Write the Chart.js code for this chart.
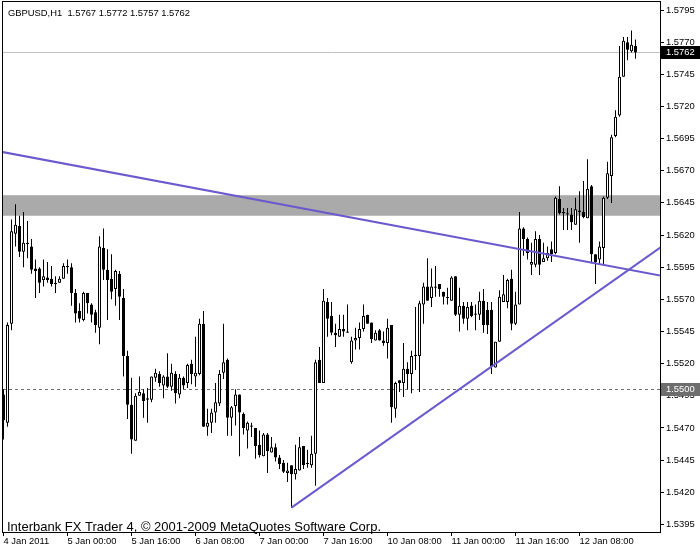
<!DOCTYPE html>
<html>
<head>
<meta charset="utf-8">
<script src="https://cdn.jsdelivr.net/npm/chart.js@4.4.1/dist/chart.umd.min.js"></script>
<style>
  html, body { margin: 0; padding: 0; background: #fff; }
  canvas { display: block; }
</style>
</head>
<body>
<canvas id="gbpChart" width="700" height="550"></canvas>
<script>
// Données GBPUSD H1
const OPEN = [1.5496,1.5474,1.5551,1.5621,1.5627,1.5607,1.5614,1.5611,1.5594,1.5594,
  1.5585,1.5587,1.5586,1.5582,1.5583,1.5586,1.5596,1.5595,1.5575,1.5561,
  1.5554,1.5575,1.5566,1.5560,1.5548,1.5610,1.5593,1.5586,1.5578,1.5590,
  1.5571,1.5526,1.5488,1.5460,1.5495,1.5497,1.5493,1.5492,1.5509,1.5512,
  1.5503,1.5510,1.5502,1.5512,1.5496,1.5509,1.5505,1.5520,1.5510,1.5512,
  1.5551,1.5471,1.5474,1.5482,1.5489,1.5513,1.5523,1.5478,1.5487,1.5496,
  1.5481,1.5468,1.5472,1.5470,1.5457,1.5448,1.5465,1.5451,1.5455,1.5447,
  1.5443,1.5435,1.5441,1.5434,1.5437,1.5456,1.5442,1.5441,1.5450,1.5523,
  1.5505,1.5568,1.5557,1.5544,1.5541,1.5547,1.5545,1.5521,1.5538,1.5540,
  1.5547,1.5558,1.5552,1.5538,1.5546,1.5538,1.5536,1.5550,1.5485,1.5507,
  1.5505,1.5516,1.5512,1.5527,1.5526,1.5566,1.5580,1.5571,1.5580,1.5582,
  1.5576,1.5571,1.5569,1.5588,1.5558,1.5565,1.5555,1.5565,1.5559,1.5558,
  1.5569,1.5562,1.5562,1.5517,1.5537,1.5568,1.5568,1.5586,1.5551,1.5566,
  1.5625,1.5617,1.5597,1.5597,1.5617,1.5599,1.5602,1.5609,1.5606,1.5648,
  1.5638,1.5637,1.5636,1.5628,1.5639,1.5638,1.5633,1.5658,1.5605,1.5601,
  1.5610,1.5649,1.5666,1.5697,1.5713,1.5743,1.5770,1.5763,1.5767];
const HIGH = [1.5500,1.5552,1.5632,1.5644,1.5635,1.5638,1.5631,1.5617,1.5601,1.5595,
  1.5601,1.5599,1.5596,1.5588,1.5588,1.5598,1.5601,1.5598,1.5578,1.5567,
  1.5576,1.5575,1.5567,1.5562,1.5619,1.5625,1.5609,1.5605,1.5593,1.5592,
  1.5578,1.5530,1.5509,1.5497,1.5510,1.5500,1.5501,1.5510,1.5516,1.5514,
  1.5511,1.5528,1.5520,1.5514,1.5512,1.5510,1.5520,1.5523,1.5541,1.5555,
  1.5561,1.5485,1.5485,1.5505,1.5515,1.5551,1.5524,1.5487,1.5500,1.5496,
  1.5482,1.5475,1.5474,1.5470,1.5468,1.5466,1.5466,1.5463,1.5458,1.5449,
  1.5445,1.5443,1.5441,1.5457,1.5463,1.5456,1.5453,1.5464,1.5523,1.5533,
  1.5578,1.5571,1.5568,1.5551,1.5558,1.5558,1.5566,1.5541,1.5548,1.5552,
  1.5566,1.5558,1.5552,1.5546,1.5547,1.5545,1.5555,1.5550,1.5506,1.5507,
  1.5536,1.5521,1.5530,1.5564,1.5569,1.5583,1.5602,1.5594,1.5596,1.5582,
  1.5576,1.5579,1.5588,1.5588,1.5579,1.5568,1.5568,1.5568,1.5566,1.5576,
  1.5578,1.5568,1.5568,1.5537,1.5577,1.5589,1.5586,1.5593,1.5576,1.5638,
  1.5626,1.5618,1.5614,1.5623,1.5620,1.5614,1.5611,1.5615,1.5650,1.5658,
  1.5641,1.5641,1.5641,1.5649,1.5654,1.5662,1.5679,1.5659,1.5605,1.5615,
  1.5650,1.5677,1.5698,1.5717,1.5767,1.5774,1.5774,1.5779,1.5772];
const LOW = [1.5461,1.5471,1.5546,1.5611,1.5603,1.5595,1.5602,1.5590,1.5571,1.5575,
  1.5580,1.5583,1.5580,1.5575,1.5583,1.5586,1.5590,1.5565,1.5552,1.5552,
  1.5553,1.5559,1.5552,1.5544,1.5535,1.5585,1.5554,1.5570,1.5565,1.5554,
  1.5510,1.5477,1.5450,1.5460,1.5495,1.5478,1.5474,1.5490,1.5506,1.5502,
  1.5493,1.5501,1.5499,1.5489,1.5493,1.5500,1.5501,1.5504,1.5502,1.5511,
  1.5471,1.5464,1.5466,1.5474,1.5487,1.5508,1.5464,1.5464,1.5472,1.5448,
  1.5465,1.5454,1.5463,1.5446,1.5447,1.5448,1.5435,1.5451,1.5444,1.5438,
  1.5435,1.5428,1.5408,1.5430,1.5437,1.5438,1.5439,1.5439,1.5425,1.5505,
  1.5505,1.5541,1.5542,1.5533,1.5541,1.5541,1.5544,1.5520,1.5531,1.5531,
  1.5545,1.5551,1.5536,1.5538,1.5538,1.5534,1.5524,1.5474,1.5478,1.5498,
  1.5494,1.5500,1.5497,1.5515,1.5498,1.5551,1.5569,1.5564,1.5572,1.5572,
  1.5566,1.5566,1.5569,1.5557,1.5545,1.5551,1.5546,1.5556,1.5546,1.5554,
  1.5544,1.5543,1.5512,1.5517,1.5537,1.5568,1.5563,1.5546,1.5550,1.5566,
  1.5604,1.5601,1.5589,1.5595,1.5589,1.5599,1.5600,1.5599,1.5605,1.5636,
  1.5624,1.5624,1.5624,1.5628,1.5614,1.5633,1.5633,1.5598,1.5582,1.5597,
  1.5597,1.5648,1.5645,1.5696,1.5712,1.5743,1.5756,1.5762,1.5757];
const CLOSE = [1.5476,1.5550,1.5623,1.5628,1.5607,1.5614,1.5613,1.5593,1.5592,1.5583,
  1.5588,1.5585,1.5582,1.5582,1.5586,1.5596,1.5595,1.5575,1.5559,1.5555,
  1.5575,1.5567,1.5558,1.5550,1.5611,1.5593,1.5585,1.5576,1.5592,1.5572,
  1.5526,1.5488,1.5461,1.5495,1.5498,1.5491,1.5492,1.5510,1.5513,1.5505,
  1.5510,1.5502,1.5513,1.5497,1.5509,1.5503,1.5519,1.5512,1.5513,1.5551,
  1.5471,1.5474,1.5482,1.5490,1.5512,1.5521,1.5478,1.5486,1.5496,1.5482,
  1.5470,1.5474,1.5471,1.5456,1.5449,1.5465,1.5452,1.5455,1.5447,1.5442,
  1.5436,1.5437,1.5434,1.5438,1.5455,1.5441,1.5442,1.5450,1.5521,1.5505,
  1.5569,1.5555,1.5544,1.5542,1.5547,1.5545,1.5544,1.5538,1.5540,1.5547,
  1.5557,1.5551,1.5539,1.5544,1.5538,1.5536,1.5548,1.5486,1.5505,1.5505,
  1.5516,1.5512,1.5526,1.5526,1.5567,1.5580,1.5569,1.5580,1.5579,1.5578,
  1.5572,1.5571,1.5587,1.5558,1.5565,1.5555,1.5564,1.5557,1.5558,1.5569,
  1.5550,1.5550,1.5518,1.5537,1.5572,1.5574,1.5585,1.5551,1.5566,1.5625,
  1.5617,1.5606,1.5599,1.5617,1.5597,1.5602,1.5606,1.5605,1.5649,1.5637,
  1.5637,1.5636,1.5630,1.5640,1.5638,1.5634,1.5656,1.5605,1.5599,1.5611,
  1.5649,1.5668,1.5696,1.5712,1.5743,1.5771,1.5764,1.5768,1.5762];

const X_LABELS = ['4 Jan 2011', '5 Jan 00:00', '5 Jan 16:00', '6 Jan 08:00', '7 Jan 00:00',
  '7 Jan 16:00', '10 Jan 08:00', '11 Jan 00:00', '11 Jan 16:00', '12 Jan 08:00'];
const X_LABEL_BARS = [0, 16, 32, 48, 64, 80, 96, 112, 128, 144];
const Y_TICKS = [1.5795, 1.5770, 1.5745, 1.5720, 1.5695, 1.5670, 1.5645, 1.5620, 1.5595,
  1.5570, 1.5545, 1.5520, 1.5495, 1.5470, 1.5445, 1.5420, 1.5395];

// Objets dessinés sur le graphique
const TREND_DOWN = [{ x: -1, y: 1.5685 }, { x: 165, y: 1.5588 }];
const TREND_UP = [{ x: 72, y: 1.5408 }, { x: 165, y: 1.5612 }];
const ZONE = [1.5635, 1.5651];
const BID = 1.5762;
const LEVEL = 1.5500;
const TITLE = 'GBPUSD,H1  1.5767 1.5772 1.5757 1.5762';
const FOOTER = 'Interbank FX Trader 4, \u00A9 2001-2009 MetaQuotes Software Corp.';

const SMALL_FONT = { family: 'Liberation Sans', size: 9.4 };
const PX_PER_PRICE = 12860;

const wickData = OPEN.map((o, i) => ({ x: i, y: [LOW[i], HIGH[i]] }));
const bodyData = OPEN.map((o, i) => ({ x: i, y: [o, CLOSE[i]] }));
const bodyColors = OPEN.map((o, i) => CLOSE[i] >= o ? '#ffffff' : '#000000');

// Plugin pour la zone grise, les lignes horizontales et les textes
const mtPlugin = {
    id: 'mtOverlay',
    beforeDatasetsDraw(chart) {
        const { ctx, chartArea: a, scales: { y } } = chart;
        ctx.save();
        const top = y.getPixelForValue(ZONE[1]);
        const bot = y.getPixelForValue(ZONE[0]);
        ctx.fillStyle = '#aaaaaa';
        ctx.fillRect(a.left, top, a.right - a.left, bot - top);

        ctx.strokeStyle = '#c0c0c0';
        ctx.lineWidth = 1;
        let yy = Math.round(y.getPixelForValue(BID)) + 0.5;
        ctx.beginPath(); ctx.moveTo(a.left, yy); ctx.lineTo(a.right, yy); ctx.stroke();

        ctx.strokeStyle = '#707070';
        ctx.setLineDash([3, 3]);
        yy = Math.round(y.getPixelForValue(LEVEL)) + 0.5;
        ctx.beginPath(); ctx.moveTo(a.left, yy); ctx.lineTo(a.right, yy); ctx.stroke();
        ctx.restore();
    },
    afterDraw(chart) {
        const { ctx, chartArea: a, scales: { y } } = chart;
        ctx.save();
        ctx.strokeStyle = '#000';
        ctx.lineWidth = 1;
        ctx.strokeRect(a.left - 0.5, a.top - 0.5, a.right - a.left + 1, a.bottom - a.top + 1);

        ctx.fillStyle = '#000';
        ctx.font = '9.4px "Liberation Sans"';
        ctx.textBaseline = 'alphabetic';
        ctx.fillText(TITLE, 8, 16);
        ctx.font = '13px "Liberation Sans"';
        ctx.fillText(FOOTER, 7, 531);

        // étiquettes de prix sur l'axe
        const tag = (value, bg) => {
            const py = Math.round(y.getPixelForValue(value));
            ctx.fillStyle = bg;
            ctx.fillRect(a.right + 1, py - 6, chart.width - a.right - 1, 13);
            ctx.fillStyle = '#fff';
            ctx.font = '9.4px "Liberation Sans"';
            ctx.textBaseline = 'middle';
            ctx.fillText(value.toFixed(4), a.right + 6, py + 0.5);
        };
        tag(LEVEL, '#6e6e6e');
        tag(BID, '#000000');
        ctx.restore();
    }
};

const yMax = 1.5795 + 8 / PX_PER_PRICE;
const yMin = yMax - 530 / PX_PER_PRICE;

const chartConfig = {
    type: 'bar',
    data: {
        datasets: [
            {
                label: 'wick',
                data: wickData,
                backgroundColor: '#000',
                barThickness: 1,
                grouped: false,
                inflateAmount: 0,
                order: 3
            },
            {
                label: 'body',
                data: bodyData,
                backgroundColor: bodyColors,
                borderColor: '#000',
                borderWidth: 1,
                borderSkipped: false,
                barThickness: 3,
                minBarLength: 1,
                grouped: false,
                inflateAmount: 0,
                order: 2
            },
            {
                type: 'line',
                data: TREND_DOWN,
                borderColor: '#6a5acd',
                borderWidth: 2,
                pointRadius: 0,
                order: 1
            },
            {
                type: 'line',
                data: TREND_UP,
                borderColor: '#6a5acd',
                borderWidth: 2,
                pointRadius: 0,
                order: 1
            }
        ]
    },
    options: {
        responsive: false,
        animation: false,
        events: [],
        layout: { padding: { left: 3, top: 2, right: 0, bottom: 0 } },
        plugins: { legend: { display: false }, tooltip: { enabled: false } },
        scales: {
            x: {
                type: 'linear',
                min: -0.125,
                max: 164.125,
                offset: false,
                grid: { drawOnChartArea: false, offset: false, tickLength: 4, color: '#000' },
                border: { display: false },
                afterBuildTicks: (s) => { s.ticks = X_LABEL_BARS.map(v => ({ value: v })); },
                afterFit: (s) => {
                    s.height = 18;
                    s.paddingLeft = 0;
                    s.paddingRight = 0;
                },
                ticks: {
                    align: 'start',
                    autoSkip: false,
                    maxRotation: 0,
                    padding: 0,
                    color: '#000',
                    font: SMALL_FONT,
                    callback: (v) => X_LABELS[X_LABEL_BARS.indexOf(v)]
                }
            },
            y: {
                position: 'right',
                min: yMin,
                max: yMax,
                grid: { drawOnChartArea: false, tickLength: 4, color: '#000' },
                border: { display: false },
                afterBuildTicks: (s) => { s.ticks = Y_TICKS.map(v => ({ value: v })); },
                afterFit: (s) => {
                    s.width = 40;
                    s.paddingTop = 0;
                    s.paddingBottom = 0;
                },
                ticks: {
                    padding: 2,
                    color: '#000',
                    font: SMALL_FONT,
                    callback: (v) => v.toFixed(4)
                }
            }
        }
    },
    plugins: [mtPlugin]
};

new Chart(document.getElementById('gbpChart'), chartConfig);
</script>
</body>
</html>
